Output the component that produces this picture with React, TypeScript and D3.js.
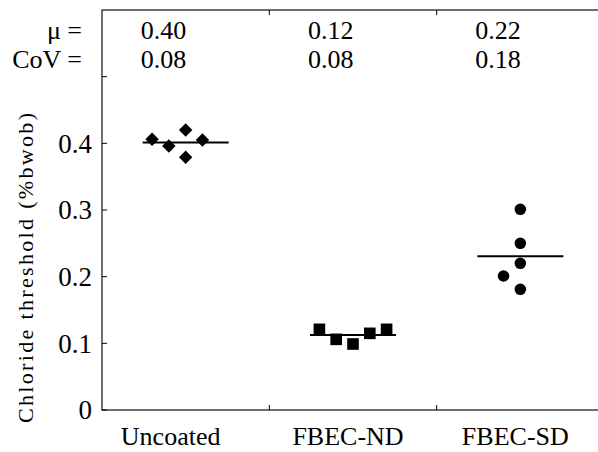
import React from "react";
import * as d3 from "d3";

const categories = ["Uncoated", "FBEC-ND", "FBEC-SD"];
const uncoatedValues = [0.406, 0.396, 0.42, 0.379, 0.405];
const ndValues = [0.121, 0.106, 0.099, 0.115, 0.121];
const sdValues = [0.301, 0.25, 0.22, 0.201, 0.181];
const uncoatedSlots = [-2, -1, 0, 0, 1];
const ndSlots = [-2, -1, 0, 1, 2];
const sdSlots = [0, 0, 0, -1, 0];
const muLabels = ["0.40", "0.12", "0.22"];
const covLabels = ["0.08", "0.08", "0.18"];
const yTicks = [0, 0.1, 0.2, 0.3, 0.4, 0.5];
const yTickLabels = ["0", "0.1", "0.2", "0.3", "0.4", ""];
const markers = ["diamond", "square", "circle"];

const W = 598, H = 452;
const left = 102, top = 10, right = 604, bottom = 410;

function T(props: any) {
  const { children, ...rest } = props;
  return (
    <text fontFamily="Liberation Serif" style={{ fontFamily: '"Liberation Serif"' }} {...rest}>
      {children}
    </text>
  );
}

export default function App() {
  const x = d3.scaleBand<string>().domain(categories).range([left, right]).padding(0);
  const y = d3.scaleLinear().domain([0, 0.6]).range([bottom, top]);
  const slot = d3.scaleLinear().domain([0, 1]).range([0, 16.8]);
  const groups = [
    { values: uncoatedValues, slots: uncoatedSlots },
    { values: ndValues, slots: ndSlots },
    { values: sdValues, slots: sdSlots },
  ];
  const bw = x.bandwidth();
  const diamond = d3.symbol().type(d3.symbolDiamond2).size(115);
  const square = d3.symbol().type(d3.symbolSquare).size(135);
  const circle = d3.symbol().type(d3.symbolCircle).size(105);
  const sym = { diamond, square, circle } as any;
  const boundaries = categories.slice(1).map((c) => x(c)!);
  const tk = 5;

  return (
    <svg width={W} height={H} fontFamily="Liberation Serif" style={{ position: "absolute", left: 0, top: 0, background: "#fff" }}>
      <style>{`text { font-family: "Liberation Serif", serif !important; }`}</style>
      <rect x={0} y={0} width={W} height={H} fill="#fff" />
      <rect x={left} y={top} width={right - left} height={bottom - top} fill="none" stroke="#222" strokeWidth={1.3} />
      {yTicks.map((t, i) => (
        <g key={i}>
          <line x1={left} x2={left + tk} y1={y(t)} y2={y(t)} stroke="#000" />
          <line x1={right} x2={right - tk} y1={y(t)} y2={y(t)} stroke="#000" />
          {yTickLabels[i] && (
            <T x={92} y={y(t)} dy="0.35em" textAnchor="end" fontSize={27}>
              {yTickLabels[i]}
            </T>
          )}
        </g>
      ))}
      {boundaries.map((b, i) => (
        <g key={i}>
          <line x1={b} x2={b} y1={bottom} y2={bottom - tk} stroke="#000" />
          <line x1={b} x2={b} y1={top} y2={top + tk} stroke="#000" />
        </g>
      ))}
      {categories.map((c, i) => (
        <T key={c} x={x(c)! + bw / 2 - 5 - (i === 0 ? 10 : 0)} y={445} textAnchor="middle" fontSize={26}>
          {c}
        </T>
      ))}
      <T
        transform={`translate(33,268) rotate(-90)`}
        textAnchor="middle"
        fontSize={22}
        textLength={310}
        lengthAdjust="spacing"
      >
        Chloride threshold (%bwob)
      </T>
      <T x={82} y={39} textAnchor="end" fontSize={26}>μ =</T>
      <T x={82} y={68} textAnchor="end" fontSize={26}>CoV =</T>
      {categories.map((c, i) => (
        <g key={c}>
          <T x={x(c)! + bw / 2 - 45} y={39} fontSize={26}>{muLabels[i]}</T>
          <T x={x(c)! + bw / 2 - 45} y={68} fontSize={26}>{covLabels[i]}</T>
        </g>
      ))}
      {groups.map((g, gi) => {
        const cx = x(categories[gi])! + bw / 2;
        const m = d3.mean(g.values)!;
        return (
          <g key={gi}>
            <line x1={cx - 43} x2={cx + 43} y1={y(m)} y2={y(m)} stroke="#000" strokeWidth={2} />
            {g.values.map((v, i) => (
              <path
                key={i}
                d={sym[markers[gi]]()!}
                transform={`translate(${cx + slot(g.slots[i])},${y(v)})`}
                fill="#000"
              />
            ))}
          </g>
        );
      })}
    </svg>
  );
}
